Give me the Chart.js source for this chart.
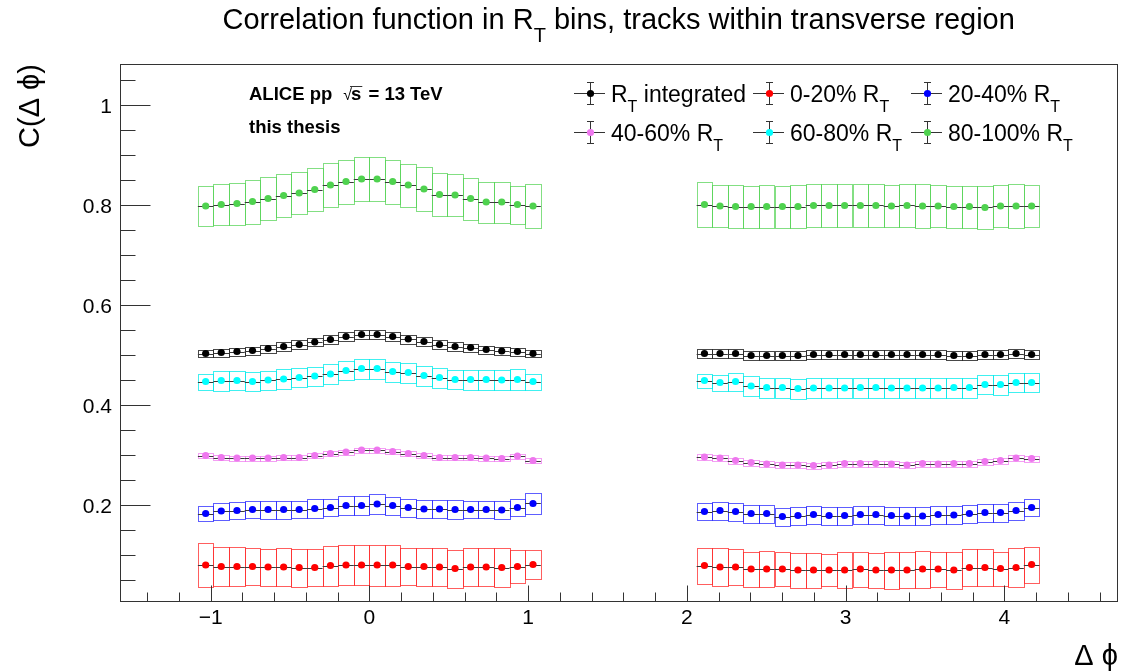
<!DOCTYPE html>
<html>
<head>
<meta charset="utf-8">
<script src="https://cdn.jsdelivr.net/npm/chart.js@4.4.1/dist/chart.umd.min.js"></script>
<style>
  html, body { margin: 0; padding: 0; background: #ffffff; }
  #wrap { width: 1121px; height: 671px; position: relative; }
</style>
</head>
<body>
<div id="wrap"><canvas id="chart" width="1121" height="671"></canvas></div>
<script>
// Δφ bin centres (bins of width 2π/64): near side and away side
const binCenters = [
  -1.031, -0.933, -0.834, -0.736, -0.638, -0.540, -0.442, -0.344, -0.245, -0.147, -0.049,
   0.049,  0.147,  0.245,  0.344,  0.442,  0.540,  0.638,  0.736,  0.834,  0.933,  1.031,
   2.111,  2.209,  2.307,  2.405,  2.503,  2.602,  2.700,  2.798,  2.896,  2.994,  3.093,
   3.191,  3.289,  3.387,  3.485,  3.583,  3.682,  3.780,  3.878,  3.976,  4.074,  4.172
];
const binWidth = 0.0982;

// C(Δφ) per R_T class
const cIntegrated = [
  0.503, 0.505, 0.507, 0.509, 0.513, 0.517, 0.521, 0.526, 0.531, 0.537, 0.541,
  0.541, 0.537, 0.532, 0.527, 0.521, 0.517, 0.515, 0.511, 0.508, 0.507, 0.503,
  0.503, 0.503, 0.503, 0.499, 0.499, 0.499, 0.499, 0.501, 0.501, 0.501, 0.501,
  0.501, 0.501, 0.501, 0.501, 0.501, 0.499, 0.499, 0.501, 0.501, 0.503, 0.501
];
const sysIntegrated = [
  0.0077, 0.008, 0.008, 0.008, 0.008, 0.0085, 0.0085, 0.0085, 0.009, 0.009, 0.0093,
  0.0093, 0.009, 0.009, 0.0085, 0.0085, 0.0085, 0.008, 0.008, 0.008, 0.008, 0.0077,
  0.0095, 0.0095, 0.0095, 0.0095, 0.0095, 0.0095, 0.0095, 0.0095, 0.0095, 0.0095, 0.0095,
  0.0095, 0.0095, 0.0095, 0.0095, 0.0095, 0.0095, 0.0095, 0.0095, 0.0095, 0.0095, 0.0095
];

const c0to20 = [
  0.080, 0.077, 0.077, 0.077, 0.076, 0.076, 0.075, 0.075, 0.079, 0.080, 0.080,
  0.080, 0.080, 0.077, 0.077, 0.076, 0.073, 0.076, 0.076, 0.075, 0.077, 0.081,
  0.079, 0.076, 0.076, 0.072, 0.072, 0.072, 0.070, 0.070, 0.070, 0.070, 0.072,
  0.070, 0.070, 0.070, 0.072, 0.072, 0.070, 0.075, 0.075, 0.073, 0.075, 0.081
];
const sys0to20 = [
  0.044, 0.039, 0.039, 0.037, 0.037, 0.038, 0.038, 0.037, 0.040, 0.040, 0.040,
  0.041, 0.041, 0.037, 0.038, 0.038, 0.038, 0.038, 0.038, 0.039, 0.033, 0.029,
  0.036, 0.038, 0.036, 0.035, 0.036, 0.034, 0.035, 0.035, 0.032, 0.036, 0.035,
  0.035, 0.037, 0.036, 0.037, 0.035, 0.037, 0.037, 0.037, 0.034, 0.039, 0.036
];

const c20to40 = [
  0.183, 0.188, 0.189, 0.191, 0.191, 0.191, 0.191, 0.193, 0.195, 0.199, 0.199,
  0.202, 0.199, 0.195, 0.192, 0.192, 0.191, 0.191, 0.191, 0.190, 0.195, 0.203,
  0.187, 0.189, 0.187, 0.183, 0.183, 0.177, 0.179, 0.181, 0.179, 0.179, 0.181,
  0.181, 0.179, 0.178, 0.178, 0.181, 0.180, 0.183, 0.185, 0.185, 0.189, 0.195
];
const sys20to40 = [
  0.015, 0.017, 0.017, 0.017, 0.018, 0.018, 0.0177, 0.0183, 0.0173, 0.0183, 0.0183,
  0.0193, 0.018, 0.018, 0.0187, 0.0177, 0.0183, 0.0177, 0.0177, 0.0177, 0.0173, 0.0217,
  0.0177, 0.018, 0.018, 0.018, 0.018, 0.018, 0.018, 0.018, 0.018, 0.018, 0.018,
  0.018, 0.018, 0.018, 0.018, 0.018, 0.018, 0.018, 0.018, 0.018, 0.018, 0.0177
];

const c40to60 = [
  0.299, 0.295, 0.294, 0.294, 0.294, 0.295, 0.295, 0.299, 0.303, 0.306, 0.310,
  0.310, 0.307, 0.303, 0.299, 0.295, 0.295, 0.295, 0.294, 0.293, 0.298, 0.289,
  0.296, 0.294, 0.289, 0.285, 0.282, 0.280, 0.280, 0.279, 0.280, 0.283, 0.283,
  0.283, 0.282, 0.280, 0.283, 0.282, 0.283, 0.283, 0.287, 0.289, 0.294, 0.293
];
const sys40to60 = [
  0.005, 0.005, 0.005, 0.005, 0.005, 0.005, 0.005, 0.005, 0.005, 0.005, 0.005,
  0.005, 0.005, 0.005, 0.005, 0.005, 0.005, 0.005, 0.005, 0.005, 0.005, 0.005,
  0.006, 0.006, 0.006, 0.006, 0.006, 0.006, 0.006, 0.006, 0.006, 0.006, 0.006,
  0.006, 0.006, 0.006, 0.006, 0.006, 0.006, 0.006, 0.006, 0.006, 0.006, 0.006
];

const c60to80 = [
  0.447, 0.449, 0.449, 0.447, 0.450, 0.452, 0.455, 0.458, 0.462, 0.469, 0.473,
  0.473, 0.467, 0.465, 0.459, 0.455, 0.451, 0.451, 0.451, 0.450, 0.451, 0.447,
  0.449, 0.445, 0.447, 0.438, 0.435, 0.435, 0.433, 0.434, 0.434, 0.434, 0.435,
  0.435, 0.434, 0.434, 0.434, 0.434, 0.435, 0.435, 0.441, 0.441, 0.445, 0.445
];
const sys60to80 = [
  0.016, 0.020, 0.019, 0.019, 0.019, 0.0197, 0.019, 0.019, 0.019, 0.0197, 0.020,
  0.020, 0.020, 0.020, 0.020, 0.020, 0.0193, 0.020, 0.020, 0.020, 0.0207, 0.016,
  0.014, 0.016, 0.018, 0.020, 0.020, 0.020, 0.020, 0.020, 0.020, 0.020, 0.020,
  0.020, 0.020, 0.020, 0.020, 0.020, 0.020, 0.020, 0.019, 0.020, 0.019, 0.019
];

const c80to100 = [
  0.798, 0.801, 0.803, 0.807, 0.813, 0.819, 0.824, 0.831, 0.840, 0.847, 0.852,
  0.852, 0.847, 0.840, 0.832, 0.821, 0.820, 0.813, 0.806, 0.806, 0.801, 0.798,
  0.801, 0.798, 0.797, 0.797, 0.797, 0.797, 0.797, 0.799, 0.799, 0.799, 0.799,
  0.799, 0.798, 0.799, 0.798, 0.798, 0.797, 0.797, 0.795, 0.798, 0.798, 0.798
];
const sys80to100 = [
  0.039, 0.041, 0.042, 0.044, 0.043, 0.043, 0.042, 0.043, 0.044, 0.044, 0.044,
  0.044, 0.044, 0.043, 0.044, 0.043, 0.042, 0.042, 0.041, 0.041, 0.038, 0.043,
  0.045, 0.042, 0.043, 0.042, 0.043, 0.042, 0.043, 0.042, 0.043, 0.042, 0.042,
  0.042, 0.042, 0.042, 0.044, 0.042, 0.042, 0.042, 0.043, 0.042, 0.044, 0.042
];

// statistical uncertainty per class (small compared with the boxes)
const statErr = [0.004, 0.004, 0.004, 0.003, 0.004, 0.004];

const seriesLabels = ['integrated', '0-20%', '20-40%', '40-60%', '60-80%', '80-100%'];
const xTickValues = [-1, 0, 1, 2, 3, 4];
const xTickLabels = ['\u22121', '0', '1', '2', '3', '4'];
const yTickValues = [0.2, 0.4, 0.6, 0.8, 1.0];
const yTickLabels = ['0.2', '0.4', '0.6', '0.8', '1'];

const FONT = '"Liberation Sans", Arial, Helvetica, sans-serif';

const styles = [
  { marker: '#000000', box: 'rgba(40,40,40,0.85)' },
  { marker: '#ff0000', box: 'rgba(255,40,40,0.75)' },
  { marker: '#0000ff', box: 'rgba(40,40,255,0.75)' },
  { marker: '#ee77ee', box: 'rgba(238,119,238,0.7)' },
  { marker: '#00ffff', box: 'rgba(0,235,235,0.75)' },
  { marker: '#4fd24f', box: 'rgba(79,210,79,0.7)' }
];
const values = [cIntegrated, c0to20, c20to40, c40to60, c60to80, c80to100];
const sysErrs = [sysIntegrated, sys0to20, sys20to40, sys40to60, sys60to80, sys80to100];

const datasets = values.map((vals, k) => ({
  label: seriesLabels[k],
  data: binCenters.map((x, i) => ({ x: x, y: vals[i] })),
  sys: sysErrs[k],
  stat: statErr[k],
  boxColor: styles[k].box,
  showLine: false,
  pointRadius: 3.6,
  pointHoverRadius: 3.6,
  pointBorderWidth: 0,
  pointBackgroundColor: styles[k].marker,
  pointBorderColor: styles[k].marker
}));

// text with an R_T style subscript: parts = [[text, isSub], ...]
function richText(ctx, parts, x, y, size, align, weight) {
  weight = weight || '';
  const subSize = Math.round(size * 0.68);
  let total = 0;
  const widths = parts.map(p => {
    ctx.font = `${weight} ${p[1] ? subSize : size}px ${FONT}`;
    const w = ctx.measureText(p[0]).width;
    total += w;
    return w;
  });
  let cx = align === 'center' ? x - total / 2 : (align === 'right' ? x - total : x);
  ctx.textAlign = 'left';
  ctx.textBaseline = 'alphabetic';
  parts.forEach((p, i) => {
    ctx.font = `${weight} ${p[1] ? subSize : size}px ${FONT}`;
    ctx.fillText(p[0], cx, p[1] ? y + size * 0.45 : y);
    cx += widths[i];
  });
  return total;
}

const rootStyle = {
  id: 'rootStyle',
  beforeDatasetsDraw(chart) {
    const { ctx } = chart;
    const xs = chart.scales.x, ys = chart.scales.y;
    const half = binWidth / 2;
    ctx.save();
    ctx.lineWidth = 1;
    // systematic boxes
    chart.data.datasets.forEach(ds => {
      ctx.strokeStyle = ds.boxColor;
      ds.data.forEach((p, i) => {
        const x0 = Math.round(xs.getPixelForValue(p.x - half)) + 0.5;
        const x1 = Math.round(xs.getPixelForValue(p.x + half)) + 0.5;
        const y0 = Math.round(ys.getPixelForValue(p.y + ds.sys[i])) + 0.5;
        const y1 = Math.round(ys.getPixelForValue(p.y - ds.sys[i])) + 0.5;
        ctx.strokeRect(x0, y0, x1 - x0, y1 - y0);
      });
    });
    // bin-width bars and statistical bars
    ctx.strokeStyle = '#3a3a3a';
    chart.data.datasets.forEach(ds => {
      ds.data.forEach(p => {
        const x0 = xs.getPixelForValue(p.x - half);
        const x1 = xs.getPixelForValue(p.x + half);
        const xc = Math.round(xs.getPixelForValue(p.x)) + 0.5;
        const yc = Math.round(ys.getPixelForValue(p.y)) + 0.5;
        ctx.beginPath();
        ctx.moveTo(x0, yc); ctx.lineTo(x1, yc);
        ctx.moveTo(xc, ys.getPixelForValue(p.y + ds.stat));
        ctx.lineTo(xc, ys.getPixelForValue(p.y - ds.stat));
        ctx.stroke();
      });
    });
    ctx.restore();
  },
  afterDraw(chart) {
    const { ctx, chartArea: a } = chart;
    const xs = chart.scales.x, ys = chart.scales.y;
    ctx.save();
    ctx.fillStyle = '#000';
    ctx.strokeStyle = '#333';
    ctx.lineWidth = 1;

    // frame
    const L = Math.round(a.left) + 0.5, R = Math.round(a.right) + 0.5;
    const T = Math.round(a.top) + 0.5, B = Math.round(a.bottom) + 0.5;
    ctx.strokeRect(L, T, R - L, B - T);

    // x ticks: majors every 1, minors every 0.2
    ctx.beginPath();
    for (let v = -14; v <= 46; v += 2) {
      const px = Math.round(xs.getPixelForValue(v / 10)) + 0.5;
      const len = (v % 10 === 0) ? 16 : 9;
      ctx.moveTo(px, B); ctx.lineTo(px, B - len);
    }
    // y ticks: majors every 0.2, minors every 0.05
    for (let v = 1; v <= 21; v++) {
      const py = Math.round(ys.getPixelForValue(v * 0.05)) + 0.5;
      const len = (v % 4 === 0) ? 30 : 15;
      ctx.moveTo(L, py); ctx.lineTo(L + len, py);
    }
    ctx.stroke();

    // tick labels
    ctx.font = `21px ${FONT}`;
    ctx.textAlign = 'center';
    ctx.textBaseline = 'alphabetic';
    xTickValues.forEach((v, i) => {
      ctx.fillText(xTickLabels[i], xs.getPixelForValue(v), 624);
    });
    ctx.textAlign = 'right';
    yTickValues.forEach((v, i) => {
      ctx.fillText(yTickLabels[i], 112, ys.getPixelForValue(v) + 7.5);
    });

    // axis titles
    ctx.font = `29px ${FONT}`;
    ctx.textAlign = 'right';
    ctx.fillText('\u0394 \u03d5', 1118, 665);
    ctx.save();
    ctx.translate(39, 106);
    ctx.rotate(-Math.PI / 2);
    ctx.textAlign = 'center';
    ctx.fillText('C(\u0394 \u03d5)', 0, 0);
    ctx.restore();

    // title
    richText(ctx, [['Correlation function in R', false], ['T', true],
                   [' bins, tracks within transverse region', false]],
             (a.left + a.right) / 2, 29, 29, 'center');

    // ALICE label
    ctx.font = `bold 18.5px ${FONT}`;
    ctx.textAlign = 'left';
    ctx.fillText('ALICE pp', 249, 100);
    let cx = 249 + ctx.measureText('ALICE pp').width + 11;
    ctx.font = `16px ${FONT}`;
    ctx.fillText('\u221a', cx, 100);
    cx += ctx.measureText('\u221a').width - 1;
    ctx.font = `bold 18.5px ${FONT}`;
    ctx.fillText('s', cx, 100);
    const sW = ctx.measureText('s').width;
    ctx.beginPath();
    ctx.moveTo(cx - 1, 86.5); ctx.lineTo(cx + sW + 1, 86.5);
    ctx.stroke();
    cx += sW + 2;
    ctx.fillText(' = 13 TeV', cx, 100);
    ctx.fillText('this thesis', 249, 133);

    // legend
    const legendCols = [590, 769, 927];
    const legendRows = [93, 132];
    const legendText = [
      [['R', false], ['T', true], [' integrated', false]],
      [['0-20% R', false], ['T', true]],
      [['20-40% R', false], ['T', true]],
      [['40-60% R', false], ['T', true]],
      [['60-80% R', false], ['T', true]],
      [['80-100% R', false], ['T', true]]
    ];
    chart.data.datasets.forEach((ds, k) => {
      const mx = legendCols[k % 3], my = legendRows[Math.floor(k / 3)];
      ctx.strokeStyle = '#333';
      ctx.beginPath();
      ctx.moveTo(mx - 16, my + 0.5); ctx.lineTo(mx + 15, my + 0.5);
      ctx.moveTo(mx + 0.5, my - 11); ctx.lineTo(mx + 0.5, my + 12);
      ctx.moveTo(mx - 3, my - 10.5); ctx.lineTo(mx + 4, my - 10.5);
      ctx.moveTo(mx - 3, my + 11.5); ctx.lineTo(mx + 4, my + 11.5);
      ctx.stroke();
      ctx.fillStyle = ds.pointBackgroundColor;
      ctx.beginPath();
      ctx.arc(mx + 0.5, my + 0.5, 3.6, 0, Math.PI * 2);
      ctx.fill();
      ctx.fillStyle = '#000';
      richText(ctx, legendText[k], mx + 21, my + 8.5, 23, 'left');
    });
    ctx.restore();
  }
};

new Chart(document.getElementById('chart'), {
  type: 'scatter',
  data: { datasets: datasets },
  options: {
    responsive: false,
    animation: false,
    devicePixelRatio: 1,
    layout: { padding: { left: 120, top: 64, right: 3, bottom: 70 } },
    plugins: { legend: { display: false }, tooltip: { enabled: false }, title: { display: false } },
    scales: {
      x: { type: 'linear', min: -Math.PI / 2, max: 3 * Math.PI / 2, display: false },
      y: { type: 'linear', min: 0.008, max: 1.082, display: false }
    }
  },
  plugins: [rootStyle]
});
</script>
</body>
</html>
